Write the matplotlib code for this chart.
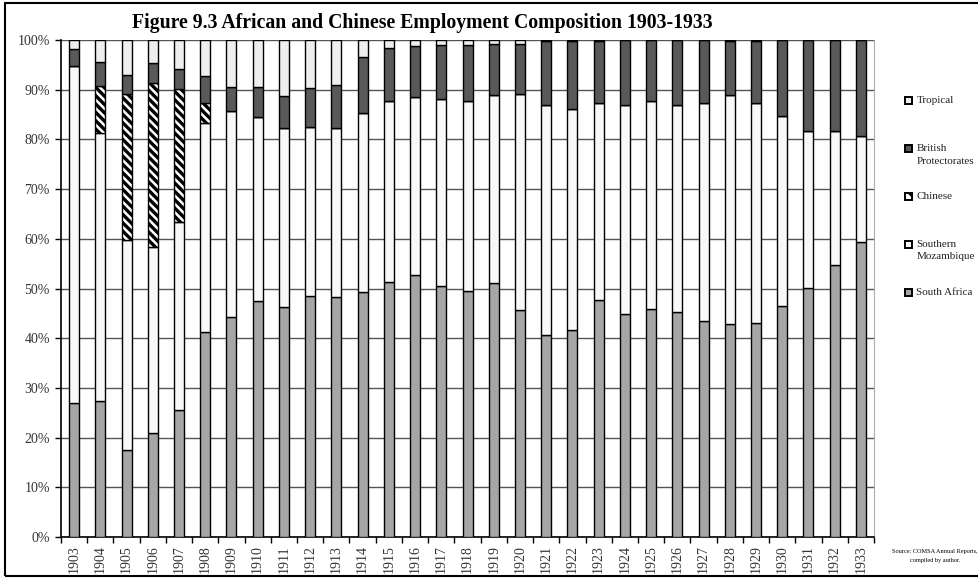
import numpy as np
import matplotlib
matplotlib.use("Agg")
import matplotlib.pyplot as plt
from matplotlib.patches import Rectangle

years = [str(y) for y in range(1903, 1934)]

# shares of the labour force, percent of total
south_africa = [27.0, 27.4, 17.6, 20.9, 25.5, 41.3, 44.2, 47.5, 46.2, 48.5,
                48.2, 49.2, 51.4, 52.7, 50.6, 49.4, 51.1, 45.7, 40.6, 41.7,
                47.6, 44.9, 45.8, 45.2, 43.4, 42.9, 43.1, 46.5, 50.1, 54.8, 59.4]
southern_moz = [67.7, 53.8, 42.2, 37.5, 37.9, 42.0, 41.5, 37.1, 36.1, 34.0,
                34.0, 36.1, 36.3, 35.8, 37.6, 38.3, 37.8, 43.5, 46.3, 44.5,
                39.8, 42.0, 41.9, 41.7, 44.0, 46.0, 44.3, 38.3, 31.6, 26.9, 21.3]
chinese = [0.0, 9.6, 29.3, 33.0, 26.7, 4.0, 0.0, 0.0, 0.0, 0.0,
           0.0, 0.0, 0.0, 0.0, 0.0, 0.0, 0.0, 0.0, 0.0, 0.0,
           0.0, 0.0, 0.0, 0.0, 0.0, 0.0, 0.0, 0.0, 0.0, 0.0, 0.0]
british_prot = [3.4, 4.8, 3.8, 3.9, 4.1, 5.4, 4.9, 6.0, 6.4, 7.8,
                8.7, 11.3, 10.7, 10.2, 10.7, 11.2, 10.3, 10.0, 12.9, 13.5,
                12.3, 13.1, 12.3, 13.1, 12.6, 10.8, 12.3, 15.2, 18.3, 18.3, 19.3]
tropical = [100 - a - b - c - d for a, b, c, d in
            zip(south_africa, southern_moz, chinese, british_prot)]

series = [
    ("South Africa", south_africa, "#a6a6a6", None),
    ("Southern\nMozambique", southern_moz, "#f8f8f8", None),
    ("Chinese", chinese, "white", "\\\\\\\\"),
    ("British\nProtectorates", british_prot, "#595959", None),
    ("Tropical", tropical, "#eeeeee", None),
]

plt.rcParams["font.family"] = ["Liberation Serif", "DejaVu Serif"]
plt.rcParams["hatch.linewidth"] = 2.4
plt.rcParams["hatch.color"] = "black"

W, H = 979, 578
fig = plt.figure(figsize=(W / 100, H / 100), dpi=100)
ax = fig.add_axes([0.0623, 0.0709, 0.8305, 0.8599])

x = np.arange(len(years))
bottom = np.zeros(len(years))
for label, vals, color, hatch in series:
    vals = np.array(vals)
    ax.bar(x, vals, width=0.38, bottom=bottom, color=color,
           edgecolor="black", linewidth=1.0, hatch=hatch,
           label=label, zorder=3)
    bottom += vals

ax.set_xlim(-0.5, len(years) - 0.5)
ax.set_ylim(0, 100)
ax.set_yticks(np.arange(0, 101, 10))
ax.set_yticklabels([f"{v}%" for v in range(0, 101, 10)], fontsize=10,
                   color="#333333")
ax.yaxis.grid(True, color="#555555", linewidth=1.0, zorder=0)

ax.set_xticks(x)
ax.set_xticklabels(years, rotation=90, fontsize=10, color="#333333")
ax.tick_params(axis="x", which="major", length=0, pad=6)
ax.set_xticks(np.arange(-0.5, len(years), 1), minor=True)
ax.tick_params(axis="x", which="minor", length=4, width=1, direction="out")
ax.tick_params(axis="y", length=4, width=1, direction="out", pad=4)

ax.spines["top"].set_visible(False)
ax.spines["right"].set_color("#aaaaaa")
ax.spines["left"].set_linewidth(1.2)
ax.spines["bottom"].set_linewidth(1.2)

fig.text(0.431, 0.960,
         "Figure 9.3 African and Chinese Employment Composition 1903-1933",
         ha="center", va="center", fontsize=14.2, fontweight="bold")

# legend: Excel-style column of small squares, top entry first
key_x, key_size, key_top, key_step = 905.5, 7, 100, 48
for i, (label, vals, color, hatch) in enumerate(series[::-1]):
    yc = key_top + i * key_step
    sq = Rectangle(((key_x) / W, 1 - (yc + key_size / 2) / H),
                   key_size / W, key_size / H, transform=fig.transFigure,
                   facecolor=color, edgecolor="black", linewidth=1.4,
                   hatch="\\\\" if hatch else None)
    fig.patches.append(sq)
    fig.text((key_x + 11) / W, 1 - (yc - 4) / H, label, ha="left", va="top",
             fontsize=8, linespacing=1.5, color="#222222")

fig.text(0.955, 0.038, "Source: COMSA Annual Reports,\ncompiled by author.",
         ha="center", va="center", fontsize=4.5, linespacing=2.0)

# figure frame
fig.patches.append(Rectangle((0.005, 0.004), 1.2, 0.991,
                             transform=fig.transFigure, fill=False,
                             edgecolor="black", linewidth=1.5))

fig.savefig("out.png", dpi=100)
